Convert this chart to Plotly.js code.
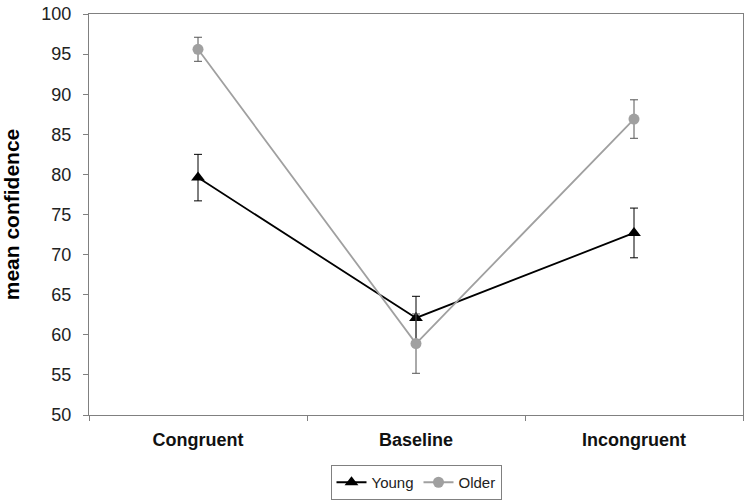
<!DOCTYPE html>
<html>
<head>
<meta charset="utf-8">
<script src="https://cdn.plot.ly/plotly-3.0.1.min.js"></script>
<style>html,body{margin:0;padding:0;background:#fff;}#chart{width:750px;height:502px;}</style>
</head>
<body>
<div id="chart"></div>
<script>
var categories = ["Congruent", "Baseline", "Incongruent"];
var youngMean = [79.6, 62.1, 72.7];
var youngErr = [2.9, 2.7, 3.1];
var olderMean = [95.6, 58.9, 86.9];
var olderErr = [1.5, 3.7, 2.4];
var yTicks = [50, 55, 60, 65, 70, 75, 80, 85, 90, 95, 100];

var traces = [
  {
    x: categories, y: youngMean, name: "Young", type: "scatter", mode: "lines+markers",
    line: {color: "#000000", width: 1.8},
    marker: {symbol: "triangle-up", size: 12, color: "#000000"},
    error_y: {type: "data", array: youngErr, visible: true, color: "#000000", thickness: 1, width: 4}
  },
  {
    x: categories, y: olderMean, name: "Older", type: "scatter", mode: "lines+markers",
    line: {color: "#a0a0a0", width: 1.8},
    marker: {symbol: "circle", size: 11, color: "#a0a0a0"},
    error_y: {type: "data", array: olderErr, visible: true, color: "#555555", thickness: 1, width: 4}
  }
];

var layout = {
  width: 750, height: 502,
  margin: {l: 89, r: 7, t: 14, b: 87, autoexpand: false},
  paper_bgcolor: "#ffffff", plot_bgcolor: "#ffffff",
  font: {family: "Liberation Sans, Arial, sans-serif", color: "#222222", size: 15},
  showlegend: true,
  legend: {
    orientation: "h", x: 0.5, xanchor: "center",
    yref: "container", y: 37 / 502, yanchor: "top",
    bordercolor: "#808080", borderwidth: 1, font: {size: 15, color: "#222"},
    tracegroupgap: 0
  },
  xaxis: {
    type: "category", range: [-0.5, 2.5],
    showline: true, linecolor: "#808080", linewidth: 1, mirror: true,
    ticks: "outside", tickson: "boundaries", ticklen: 5, tickcolor: "#808080",
    showgrid: false, zeroline: false, automargin: false,
    ticklabelstandoff: 8,
    tickfont: {size: 18, color: "#111", weight: "bold"}
  },
  yaxis: {
    range: [50, 100], tickvals: yTicks,
    showline: true, linecolor: "#808080", linewidth: 1, mirror: true,
    ticks: "outside", ticklen: 5, tickcolor: "#808080",
    showgrid: false, zeroline: false, automargin: false,
    ticklabelstandoff: 8,
    tickfont: {size: 18, color: "#222"},
    title: {text: "mean confidence", font: {size: 21, color: "#000", weight: "bold"}, standoff: 16}
  }
};

Plotly.newPlot("chart", traces, layout, {displayModeBar: false, staticPlot: true});
</script>
</body>
</html>
